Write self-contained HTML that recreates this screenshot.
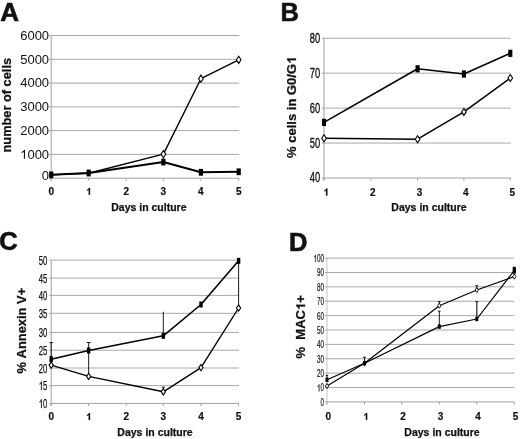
<!DOCTYPE html>
<html><head><meta charset="utf-8"><style>
html,body{margin:0;padding:0;background:#fff;}
svg{display:block;font-family:"Liberation Sans", sans-serif;will-change:transform;font-kerning:none;filter:blur(0.3px);}
</style></head><body>
<svg width="520" height="439" viewBox="0 0 520 439">
<rect width="520" height="439" fill="#fff"/>
<line x1="51.20" y1="154.42" x2="239.30" y2="154.42" stroke="#a8a8a8" stroke-width="1" />
<line x1="51.20" y1="130.64" x2="239.30" y2="130.64" stroke="#a8a8a8" stroke-width="1" />
<line x1="51.20" y1="106.86" x2="239.30" y2="106.86" stroke="#a8a8a8" stroke-width="1" />
<line x1="51.20" y1="83.08" x2="239.30" y2="83.08" stroke="#a8a8a8" stroke-width="1" />
<line x1="51.20" y1="59.30" x2="239.30" y2="59.30" stroke="#a8a8a8" stroke-width="1" />
<line x1="51.20" y1="35.52" x2="239.30" y2="35.52" stroke="#a8a8a8" stroke-width="1" />
<line x1="51.20" y1="178.20" x2="239.30" y2="178.20" stroke="#a0a0a0" stroke-width="1" />
<line x1="51.20" y1="35.52" x2="51.20" y2="180.70" stroke="#a0a0a0" stroke-width="1" />
<line x1="49.20" y1="178.20" x2="51.20" y2="178.20" stroke="#a0a0a0" stroke-width="1" />
<line x1="49.20" y1="154.42" x2="51.20" y2="154.42" stroke="#a0a0a0" stroke-width="1" />
<line x1="49.20" y1="130.64" x2="51.20" y2="130.64" stroke="#a0a0a0" stroke-width="1" />
<line x1="49.20" y1="106.86" x2="51.20" y2="106.86" stroke="#a0a0a0" stroke-width="1" />
<line x1="49.20" y1="83.08" x2="51.20" y2="83.08" stroke="#a0a0a0" stroke-width="1" />
<line x1="49.20" y1="59.30" x2="51.20" y2="59.30" stroke="#a0a0a0" stroke-width="1" />
<line x1="49.20" y1="35.52" x2="51.20" y2="35.52" stroke="#a0a0a0" stroke-width="1" />
<line x1="51.20" y1="178.20" x2="51.20" y2="180.70" stroke="#a0a0a0" stroke-width="1" />
<line x1="88.65" y1="178.20" x2="88.65" y2="180.70" stroke="#a0a0a0" stroke-width="1" />
<line x1="126.30" y1="178.20" x2="126.30" y2="180.70" stroke="#a0a0a0" stroke-width="1" />
<line x1="163.40" y1="178.20" x2="163.40" y2="180.70" stroke="#a0a0a0" stroke-width="1" />
<line x1="200.90" y1="178.20" x2="200.90" y2="180.70" stroke="#a0a0a0" stroke-width="1" />
<line x1="238.70" y1="178.20" x2="238.70" y2="180.70" stroke="#a0a0a0" stroke-width="1" />
<text x="41.87" y="180.05" font-size="13" font-weight="normal" fill="#111" >0</text>
<text x="20.18" y="158.67" font-size="13" font-weight="normal" fill="#111" > 000</text>
<path d="M25.02,158.67L23.88,158.67L23.88,151.69Q23.47,152.07 22.80,152.45Q22.13,152.82 21.60,153.02L21.60,151.96Q22.56,151.53 23.28,150.91Q24.00,150.30 24.29,149.73L25.02,149.73Z" fill="#111"/>
<text x="20.18" y="134.89" font-size="13" font-weight="normal" fill="#111" >2000</text>
<text x="20.18" y="111.11" font-size="13" font-weight="normal" fill="#111" >3000</text>
<text x="20.18" y="87.33" font-size="13" font-weight="normal" fill="#111" >4000</text>
<text x="20.18" y="63.55" font-size="13" font-weight="normal" fill="#111" >5000</text>
<text x="20.18" y="39.77" font-size="13" font-weight="normal" fill="#111" >6000</text>
<text x="48.42" y="194.80" font-size="10" font-weight="bold" fill="#111" stroke="#111" stroke-width="0.2">0</text>
<text x="85.87" y="194.80" font-size="10" font-weight="bold" fill="#111" stroke="#111" stroke-width="0.2"> </text>
<path d="M90.06,194.80L88.69,194.80L88.69,189.85Q87.93,190.52 86.92,190.84L86.92,189.65Q87.46,189.48 88.08,189.01Q88.71,188.55 88.95,187.92L90.06,187.92Z" fill="#111" stroke="#111" stroke-width="0.2"/>
<text x="123.52" y="194.80" font-size="10" font-weight="bold" fill="#111" stroke="#111" stroke-width="0.2">2</text>
<text x="160.62" y="194.80" font-size="10" font-weight="bold" fill="#111" stroke="#111" stroke-width="0.2">3</text>
<text x="198.12" y="194.80" font-size="10" font-weight="bold" fill="#111" stroke="#111" stroke-width="0.2">4</text>
<text x="235.92" y="194.80" font-size="10" font-weight="bold" fill="#111" stroke="#111" stroke-width="0.2">5</text>
<text x="111.21" y="210.50" font-size="10.5" font-weight="bold" fill="#111" stroke="#111" stroke-width="0.25">Days in culture</text>
<g transform="translate(10.90,105.20) rotate(-90)">
<text x="-47.30" y="0.00" font-size="12.8" font-weight="bold" fill="#111" stroke="#111" stroke-width="0.25">number of cells</text>
</g>
<text x="0.20" y="20.80" font-size="26" font-weight="bold" fill="#111" stroke="#111" stroke-width="0.6">A</text>
<polyline points="51.20,174.90 88.65,173.30 163.40,154.10 200.90,78.70 238.70,59.80" fill="none" stroke="#000" stroke-width="1.4" stroke-linejoin="round"/>
<polyline points="51.20,174.85 88.65,173.00 163.40,162.00 200.90,172.30 238.70,171.80" fill="none" stroke="#000" stroke-width="2" stroke-linejoin="round"/>
<path d="M163.40,150.50 L165.70,154.10 L163.40,157.70 L161.10,154.10 Z" fill="#fff" stroke="#000" stroke-width="1.1"/>
<path d="M200.90,75.10 L203.20,78.70 L200.90,82.30 L198.60,78.70 Z" fill="#fff" stroke="#000" stroke-width="1.1"/>
<path d="M238.70,56.20 L241.00,59.80 L238.70,63.40 L236.40,59.80 Z" fill="#fff" stroke="#000" stroke-width="1.1"/>
<rect x="49.10" y="171.45" width="4.2" height="6.8" fill="#000"/>
<rect x="86.55" y="169.60" width="4.2" height="6.8" fill="#000"/>
<rect x="161.30" y="158.60" width="4.2" height="6.8" fill="#000"/>
<rect x="198.80" y="168.90" width="4.2" height="6.8" fill="#000"/>
<rect x="236.60" y="168.40" width="4.2" height="6.8" fill="#000"/>
<line x1="324.00" y1="143.05" x2="510.80" y2="143.05" stroke="#a8a8a8" stroke-width="1" />
<line x1="324.00" y1="108.10" x2="510.80" y2="108.10" stroke="#a8a8a8" stroke-width="1" />
<line x1="324.00" y1="73.15" x2="510.80" y2="73.15" stroke="#a8a8a8" stroke-width="1" />
<line x1="324.00" y1="38.20" x2="510.80" y2="38.20" stroke="#a8a8a8" stroke-width="1" />
<line x1="324.00" y1="178.00" x2="510.80" y2="178.00" stroke="#a0a0a0" stroke-width="1" />
<line x1="324.00" y1="38.20" x2="324.00" y2="180.50" stroke="#a0a0a0" stroke-width="1" />
<line x1="322.00" y1="178.00" x2="324.00" y2="178.00" stroke="#a0a0a0" stroke-width="1" />
<line x1="322.00" y1="143.05" x2="324.00" y2="143.05" stroke="#a0a0a0" stroke-width="1" />
<line x1="322.00" y1="108.10" x2="324.00" y2="108.10" stroke="#a0a0a0" stroke-width="1" />
<line x1="322.00" y1="73.15" x2="324.00" y2="73.15" stroke="#a0a0a0" stroke-width="1" />
<line x1="322.00" y1="38.20" x2="324.00" y2="38.20" stroke="#a0a0a0" stroke-width="1" />
<line x1="324.00" y1="178.00" x2="324.00" y2="180.50" stroke="#a0a0a0" stroke-width="1" />
<line x1="370.80" y1="178.00" x2="370.80" y2="180.50" stroke="#a0a0a0" stroke-width="1" />
<line x1="417.60" y1="178.00" x2="417.60" y2="180.50" stroke="#a0a0a0" stroke-width="1" />
<line x1="463.90" y1="178.00" x2="463.90" y2="180.50" stroke="#a0a0a0" stroke-width="1" />
<line x1="510.30" y1="178.00" x2="510.30" y2="180.50" stroke="#a0a0a0" stroke-width="1" />
<text x="309.80" y="182.00" font-size="14.6" font-weight="normal" fill="#111" textLength="10.4" lengthAdjust="spacingAndGlyphs" stroke="#111" stroke-width="0.35">40</text>
<text x="309.80" y="148.25" font-size="14.6" font-weight="normal" fill="#111" textLength="10.4" lengthAdjust="spacingAndGlyphs" stroke="#111" stroke-width="0.35">50</text>
<text x="309.80" y="113.30" font-size="14.6" font-weight="normal" fill="#111" textLength="10.4" lengthAdjust="spacingAndGlyphs" stroke="#111" stroke-width="0.35">60</text>
<text x="309.80" y="78.35" font-size="14.6" font-weight="normal" fill="#111" textLength="10.4" lengthAdjust="spacingAndGlyphs" stroke="#111" stroke-width="0.35">70</text>
<text x="309.80" y="43.40" font-size="14.6" font-weight="normal" fill="#111" textLength="10.4" lengthAdjust="spacingAndGlyphs" stroke="#111" stroke-width="0.35">80</text>
<text x="323.22" y="195.50" font-size="10" font-weight="bold" fill="#111" stroke="#111" stroke-width="0.2"> </text>
<path d="M327.41,195.50L326.04,195.50L326.04,190.55Q325.28,191.22 324.27,191.54L324.27,190.35Q324.81,190.18 325.43,189.71Q326.06,189.25 326.30,188.62L327.41,188.62Z" fill="#111" stroke="#111" stroke-width="0.2"/>
<text x="370.02" y="195.50" font-size="10" font-weight="bold" fill="#111" stroke="#111" stroke-width="0.2">2</text>
<text x="416.82" y="195.50" font-size="10" font-weight="bold" fill="#111" stroke="#111" stroke-width="0.2">3</text>
<text x="463.12" y="195.50" font-size="10" font-weight="bold" fill="#111" stroke="#111" stroke-width="0.2">4</text>
<text x="509.52" y="195.50" font-size="10" font-weight="bold" fill="#111" stroke="#111" stroke-width="0.2">5</text>
<text x="391.36" y="211.40" font-size="10.5" font-weight="bold" fill="#111" stroke="#111" stroke-width="0.25">Days in culture</text>
<g transform="translate(296.00,107.30) rotate(-90)">
<text x="-50.58" y="0.00" font-size="13" font-weight="bold" fill="#111" stroke="#111" stroke-width="0.25">% cells in G0/G </text>
<path d="M48.79,0.00L47.01,0.00L47.01,-6.44Q46.03,-5.56 44.72,-5.15L44.72,-6.70Q45.41,-6.92 46.22,-7.52Q47.04,-8.12 47.35,-8.94L48.79,-8.94Z" fill="#111" stroke="#111" stroke-width="0.25"/>
</g>
<text x="280.60" y="20.80" font-size="25.5" font-weight="bold" fill="#111" stroke="#111" stroke-width="0.6">B</text>
<polyline points="324.00,138.30 417.60,139.20 463.90,111.90 510.30,78.00" fill="none" stroke="#000" stroke-width="1.5" stroke-linejoin="round"/>
<polyline points="324.00,122.40 417.60,68.80 463.90,74.00 510.30,53.30" fill="none" stroke="#000" stroke-width="1.6" stroke-linejoin="round"/>
<path d="M324.00,134.80 L326.30,138.30 L324.00,141.80 L321.70,138.30 Z" fill="#fff" stroke="#000" stroke-width="1.1"/>
<path d="M417.60,135.70 L419.90,139.20 L417.60,142.70 L415.30,139.20 Z" fill="#fff" stroke="#000" stroke-width="1.1"/>
<path d="M463.90,108.40 L466.20,111.90 L463.90,115.40 L461.60,111.90 Z" fill="#fff" stroke="#000" stroke-width="1.1"/>
<path d="M510.30,74.50 L512.60,78.00 L510.30,81.50 L508.00,78.00 Z" fill="#fff" stroke="#000" stroke-width="1.1"/>
<rect x="321.95" y="118.80" width="4.1" height="7.2" fill="#000"/>
<rect x="415.55" y="65.20" width="4.1" height="7.2" fill="#000"/>
<rect x="461.85" y="70.40" width="4.1" height="7.2" fill="#000"/>
<rect x="508.25" y="49.70" width="4.1" height="7.2" fill="#000"/>
<line x1="51.20" y1="385.60" x2="239.00" y2="385.60" stroke="#a8a8a8" stroke-width="1" />
<line x1="51.20" y1="368.00" x2="239.00" y2="368.00" stroke="#a8a8a8" stroke-width="1" />
<line x1="51.20" y1="350.20" x2="239.00" y2="350.20" stroke="#a8a8a8" stroke-width="1" />
<line x1="51.20" y1="332.40" x2="239.00" y2="332.40" stroke="#a8a8a8" stroke-width="1" />
<line x1="51.20" y1="313.30" x2="239.00" y2="313.30" stroke="#a8a8a8" stroke-width="1" />
<line x1="51.20" y1="295.40" x2="239.00" y2="295.40" stroke="#a8a8a8" stroke-width="1" />
<line x1="51.20" y1="278.10" x2="239.00" y2="278.10" stroke="#a8a8a8" stroke-width="1" />
<line x1="51.20" y1="260.10" x2="239.00" y2="260.10" stroke="#a8a8a8" stroke-width="1" />
<line x1="51.20" y1="403.40" x2="239.00" y2="403.40" stroke="#a0a0a0" stroke-width="1" />
<line x1="51.20" y1="260.10" x2="51.20" y2="405.90" stroke="#a0a0a0" stroke-width="1" />
<line x1="49.20" y1="403.40" x2="51.20" y2="403.40" stroke="#a0a0a0" stroke-width="1" />
<line x1="49.20" y1="385.60" x2="51.20" y2="385.60" stroke="#a0a0a0" stroke-width="1" />
<line x1="49.20" y1="368.00" x2="51.20" y2="368.00" stroke="#a0a0a0" stroke-width="1" />
<line x1="49.20" y1="350.20" x2="51.20" y2="350.20" stroke="#a0a0a0" stroke-width="1" />
<line x1="49.20" y1="332.40" x2="51.20" y2="332.40" stroke="#a0a0a0" stroke-width="1" />
<line x1="49.20" y1="313.30" x2="51.20" y2="313.30" stroke="#a0a0a0" stroke-width="1" />
<line x1="49.20" y1="295.40" x2="51.20" y2="295.40" stroke="#a0a0a0" stroke-width="1" />
<line x1="49.20" y1="278.10" x2="51.20" y2="278.10" stroke="#a0a0a0" stroke-width="1" />
<line x1="49.20" y1="260.10" x2="51.20" y2="260.10" stroke="#a0a0a0" stroke-width="1" />
<line x1="51.20" y1="403.40" x2="51.20" y2="405.90" stroke="#a0a0a0" stroke-width="1" />
<line x1="88.65" y1="403.40" x2="88.65" y2="405.90" stroke="#a0a0a0" stroke-width="1" />
<line x1="126.30" y1="403.40" x2="126.30" y2="405.90" stroke="#a0a0a0" stroke-width="1" />
<line x1="163.30" y1="403.40" x2="163.30" y2="405.90" stroke="#a0a0a0" stroke-width="1" />
<line x1="201.00" y1="403.40" x2="201.00" y2="405.90" stroke="#a0a0a0" stroke-width="1" />
<line x1="238.60" y1="403.40" x2="238.60" y2="405.90" stroke="#a0a0a0" stroke-width="1" />
<text x="38.80" y="407.90" font-size="12.5" font-weight="normal" fill="#111" textLength="8.6" lengthAdjust="spacingAndGlyphs" stroke="#111" stroke-width="0.25"> 0</text>
<path d="M41.68,407.90L41.00,407.90L41.00,401.19Q40.76,401.55 40.36,401.92Q39.96,402.28 39.64,402.47L39.64,401.45Q40.22,401.03 40.64,400.44Q41.07,399.85 41.24,399.30L41.68,399.30Z" fill="#111" stroke="#111" stroke-width="0.25"/>
<text x="38.80" y="390.10" font-size="12.5" font-weight="normal" fill="#111" textLength="8.6" lengthAdjust="spacingAndGlyphs" stroke="#111" stroke-width="0.25"> 5</text>
<path d="M41.68,390.10L41.00,390.10L41.00,383.39Q40.76,383.75 40.36,384.12Q39.96,384.48 39.64,384.67L39.64,383.65Q40.22,383.23 40.64,382.64Q41.07,382.05 41.24,381.50L41.68,381.50Z" fill="#111" stroke="#111" stroke-width="0.25"/>
<text x="38.80" y="372.50" font-size="12.5" font-weight="normal" fill="#111" textLength="8.6" lengthAdjust="spacingAndGlyphs" stroke="#111" stroke-width="0.25">20</text>
<text x="38.80" y="354.70" font-size="12.5" font-weight="normal" fill="#111" textLength="8.6" lengthAdjust="spacingAndGlyphs" stroke="#111" stroke-width="0.25">25</text>
<text x="38.80" y="336.90" font-size="12.5" font-weight="normal" fill="#111" textLength="8.6" lengthAdjust="spacingAndGlyphs" stroke="#111" stroke-width="0.25">30</text>
<text x="38.80" y="317.80" font-size="12.5" font-weight="normal" fill="#111" textLength="8.6" lengthAdjust="spacingAndGlyphs" stroke="#111" stroke-width="0.25">35</text>
<text x="38.80" y="299.90" font-size="12.5" font-weight="normal" fill="#111" textLength="8.6" lengthAdjust="spacingAndGlyphs" stroke="#111" stroke-width="0.25">40</text>
<text x="38.80" y="282.60" font-size="12.5" font-weight="normal" fill="#111" textLength="8.6" lengthAdjust="spacingAndGlyphs" stroke="#111" stroke-width="0.25">45</text>
<text x="38.80" y="264.60" font-size="12.5" font-weight="normal" fill="#111" textLength="8.6" lengthAdjust="spacingAndGlyphs" stroke="#111" stroke-width="0.25">50</text>
<text x="48.42" y="420.00" font-size="10" font-weight="bold" fill="#111" stroke="#111" stroke-width="0.2">0</text>
<text x="85.87" y="420.00" font-size="10" font-weight="bold" fill="#111" stroke="#111" stroke-width="0.2"> </text>
<path d="M90.06,420.00L88.69,420.00L88.69,415.05Q87.93,415.72 86.92,416.04L86.92,414.85Q87.46,414.68 88.08,414.21Q88.71,413.75 88.95,413.12L90.06,413.12Z" fill="#111" stroke="#111" stroke-width="0.2"/>
<text x="123.52" y="420.00" font-size="10" font-weight="bold" fill="#111" stroke="#111" stroke-width="0.2">2</text>
<text x="160.52" y="420.00" font-size="10" font-weight="bold" fill="#111" stroke="#111" stroke-width="0.2">3</text>
<text x="198.22" y="420.00" font-size="10" font-weight="bold" fill="#111" stroke="#111" stroke-width="0.2">4</text>
<text x="235.82" y="420.00" font-size="10" font-weight="bold" fill="#111" stroke="#111" stroke-width="0.2">5</text>
<text x="117.36" y="435.50" font-size="10.5" font-weight="bold" fill="#111" stroke="#111" stroke-width="0.25">Days in culture</text>
<g transform="translate(25.50,330.60) rotate(-90)">
<text x="-42.83" y="0.00" font-size="12.9" font-weight="bold" fill="#111" stroke="#111" stroke-width="0.25">% Annexin V+</text>
</g>
<text x="-0.70" y="250.20" font-size="25.5" font-weight="bold" fill="#111" stroke="#111" stroke-width="0.6">C</text>
<line x1="51.20" y1="359.20" x2="51.20" y2="342.50" stroke="#000" stroke-width="0.9" />
<line x1="49.60" y1="342.50" x2="52.80" y2="342.50" stroke="#000" stroke-width="0.9" />
<line x1="88.65" y1="350.50" x2="88.65" y2="342.50" stroke="#000" stroke-width="0.9" />
<line x1="86.65" y1="342.50" x2="90.65" y2="342.50" stroke="#000" stroke-width="0.9" />
<line x1="88.65" y1="376.40" x2="88.65" y2="350.50" stroke="#000" stroke-width="0.9" />
<line x1="163.30" y1="335.80" x2="163.30" y2="311.80" stroke="#000" stroke-width="0.9" />
<line x1="163.30" y1="391.80" x2="163.30" y2="387.20" stroke="#000" stroke-width="0.9" />
<line x1="161.70" y1="387.20" x2="164.90" y2="387.20" stroke="#000" stroke-width="0.9" />
<line x1="238.60" y1="308.00" x2="238.60" y2="260.80" stroke="#000" stroke-width="0.9" />
<polyline points="51.20,365.10 88.65,376.40 163.30,391.80 201.00,367.60 238.60,308.00" fill="none" stroke="#000" stroke-width="1.4" stroke-linejoin="round"/>
<polyline points="51.20,359.20 88.65,350.50 163.30,335.80 201.00,304.50 238.60,260.80" fill="none" stroke="#000" stroke-width="1.6" stroke-linejoin="round"/>
<path d="M51.20,362.00 L53.30,365.10 L51.20,368.20 L49.10,365.10 Z" fill="#fff" stroke="#000" stroke-width="1.1"/>
<path d="M88.65,373.30 L90.75,376.40 L88.65,379.50 L86.55,376.40 Z" fill="#fff" stroke="#000" stroke-width="1.1"/>
<path d="M163.30,388.70 L165.40,391.80 L163.30,394.90 L161.20,391.80 Z" fill="#fff" stroke="#000" stroke-width="1.1"/>
<path d="M201.00,364.50 L203.10,367.60 L201.00,370.70 L198.90,367.60 Z" fill="#fff" stroke="#000" stroke-width="1.1"/>
<path d="M238.60,304.90 L240.70,308.00 L238.60,311.10 L236.50,308.00 Z" fill="#fff" stroke="#000" stroke-width="1.1"/>
<rect x="49.50" y="356.20" width="3.4" height="6" fill="#000"/>
<rect x="86.95" y="347.50" width="3.4" height="6" fill="#000"/>
<rect x="161.60" y="332.80" width="3.4" height="6" fill="#000"/>
<rect x="199.30" y="301.50" width="3.4" height="6" fill="#000"/>
<rect x="236.90" y="257.80" width="3.4" height="6" fill="#000"/>
<line x1="327.00" y1="387.52" x2="514.30" y2="387.52" stroke="#a8a8a8" stroke-width="1" />
<line x1="327.00" y1="373.14" x2="514.30" y2="373.14" stroke="#a8a8a8" stroke-width="1" />
<line x1="327.00" y1="358.76" x2="514.30" y2="358.76" stroke="#a8a8a8" stroke-width="1" />
<line x1="327.00" y1="344.38" x2="514.30" y2="344.38" stroke="#a8a8a8" stroke-width="1" />
<line x1="327.00" y1="330.00" x2="514.30" y2="330.00" stroke="#a8a8a8" stroke-width="1" />
<line x1="327.00" y1="315.62" x2="514.30" y2="315.62" stroke="#a8a8a8" stroke-width="1" />
<line x1="327.00" y1="301.24" x2="514.30" y2="301.24" stroke="#a8a8a8" stroke-width="1" />
<line x1="327.00" y1="286.86" x2="514.30" y2="286.86" stroke="#a8a8a8" stroke-width="1" />
<line x1="327.00" y1="272.48" x2="514.30" y2="272.48" stroke="#a8a8a8" stroke-width="1" />
<line x1="327.00" y1="258.10" x2="514.30" y2="258.10" stroke="#a8a8a8" stroke-width="1" />
<line x1="327.00" y1="401.90" x2="514.30" y2="401.90" stroke="#a0a0a0" stroke-width="1" />
<line x1="327.00" y1="258.10" x2="327.00" y2="404.40" stroke="#c4c4c4" stroke-width="1" />
<line x1="325.00" y1="401.90" x2="327.00" y2="401.90" stroke="#a0a0a0" stroke-width="1" />
<line x1="325.00" y1="387.52" x2="327.00" y2="387.52" stroke="#a0a0a0" stroke-width="1" />
<line x1="325.00" y1="373.14" x2="327.00" y2="373.14" stroke="#a0a0a0" stroke-width="1" />
<line x1="325.00" y1="358.76" x2="327.00" y2="358.76" stroke="#a0a0a0" stroke-width="1" />
<line x1="325.00" y1="344.38" x2="327.00" y2="344.38" stroke="#a0a0a0" stroke-width="1" />
<line x1="325.00" y1="330.00" x2="327.00" y2="330.00" stroke="#a0a0a0" stroke-width="1" />
<line x1="325.00" y1="315.62" x2="327.00" y2="315.62" stroke="#a0a0a0" stroke-width="1" />
<line x1="325.00" y1="301.24" x2="327.00" y2="301.24" stroke="#a0a0a0" stroke-width="1" />
<line x1="325.00" y1="286.86" x2="327.00" y2="286.86" stroke="#a0a0a0" stroke-width="1" />
<line x1="325.00" y1="272.48" x2="327.00" y2="272.48" stroke="#a0a0a0" stroke-width="1" />
<line x1="325.00" y1="258.10" x2="327.00" y2="258.10" stroke="#a0a0a0" stroke-width="1" />
<line x1="327.00" y1="401.90" x2="327.00" y2="404.40" stroke="#a0a0a0" stroke-width="1" />
<line x1="364.50" y1="401.90" x2="364.50" y2="404.40" stroke="#a0a0a0" stroke-width="1" />
<line x1="401.80" y1="401.90" x2="401.80" y2="404.40" stroke="#a0a0a0" stroke-width="1" />
<line x1="439.30" y1="401.90" x2="439.30" y2="404.40" stroke="#a0a0a0" stroke-width="1" />
<line x1="476.80" y1="401.90" x2="476.80" y2="404.40" stroke="#a0a0a0" stroke-width="1" />
<line x1="514.30" y1="401.90" x2="514.30" y2="404.40" stroke="#a0a0a0" stroke-width="1" />
<text x="320.50" y="405.80" font-size="10.5" font-weight="normal" fill="#111" textLength="3.5" lengthAdjust="spacingAndGlyphs" stroke="#111" stroke-width="0.2">0</text>
<text x="317.00" y="391.42" font-size="10.5" font-weight="normal" fill="#111" textLength="7.0" lengthAdjust="spacingAndGlyphs" stroke="#111" stroke-width="0.2"> 0</text>
<path d="M319.34,391.42L318.79,391.42L318.79,385.78Q318.59,386.09 318.27,386.40Q317.94,386.70 317.69,386.86L317.69,386.00Q318.15,385.65 318.50,385.15Q318.85,384.66 318.99,384.20L319.34,384.20Z" fill="#111" stroke="#111" stroke-width="0.2"/>
<text x="317.00" y="377.04" font-size="10.5" font-weight="normal" fill="#111" textLength="7.0" lengthAdjust="spacingAndGlyphs" stroke="#111" stroke-width="0.2">20</text>
<text x="317.00" y="362.66" font-size="10.5" font-weight="normal" fill="#111" textLength="7.0" lengthAdjust="spacingAndGlyphs" stroke="#111" stroke-width="0.2">30</text>
<text x="317.00" y="348.28" font-size="10.5" font-weight="normal" fill="#111" textLength="7.0" lengthAdjust="spacingAndGlyphs" stroke="#111" stroke-width="0.2">40</text>
<text x="317.00" y="333.90" font-size="10.5" font-weight="normal" fill="#111" textLength="7.0" lengthAdjust="spacingAndGlyphs" stroke="#111" stroke-width="0.2">50</text>
<text x="317.00" y="319.52" font-size="10.5" font-weight="normal" fill="#111" textLength="7.0" lengthAdjust="spacingAndGlyphs" stroke="#111" stroke-width="0.2">60</text>
<text x="317.00" y="305.14" font-size="10.5" font-weight="normal" fill="#111" textLength="7.0" lengthAdjust="spacingAndGlyphs" stroke="#111" stroke-width="0.2">70</text>
<text x="317.00" y="290.76" font-size="10.5" font-weight="normal" fill="#111" textLength="7.0" lengthAdjust="spacingAndGlyphs" stroke="#111" stroke-width="0.2">80</text>
<text x="317.00" y="276.38" font-size="10.5" font-weight="normal" fill="#111" textLength="7.0" lengthAdjust="spacingAndGlyphs" stroke="#111" stroke-width="0.2">90</text>
<text x="313.50" y="262.00" font-size="10.5" font-weight="normal" fill="#111" textLength="10.5" lengthAdjust="spacingAndGlyphs" stroke="#111" stroke-width="0.2"> 00</text>
<path d="M315.84,262.00L315.29,262.00L315.29,256.36Q315.09,256.67 314.77,256.98Q314.44,257.28 314.19,257.44L314.19,256.58Q314.65,256.23 315.00,255.73Q315.35,255.24 315.49,254.78L315.84,254.78Z" fill="#111" stroke="#111" stroke-width="0.2"/>
<text x="325.52" y="419.80" font-size="10" font-weight="bold" fill="#111" stroke="#111" stroke-width="0.2">0</text>
<text x="363.02" y="419.80" font-size="10" font-weight="bold" fill="#111" stroke="#111" stroke-width="0.2"> </text>
<path d="M367.21,419.80L365.84,419.80L365.84,414.85Q365.08,415.52 364.07,415.84L364.07,414.65Q364.61,414.48 365.23,414.01Q365.86,413.55 366.10,412.92L367.21,412.92Z" fill="#111" stroke="#111" stroke-width="0.2"/>
<text x="400.32" y="419.80" font-size="10" font-weight="bold" fill="#111" stroke="#111" stroke-width="0.2">2</text>
<text x="437.82" y="419.80" font-size="10" font-weight="bold" fill="#111" stroke="#111" stroke-width="0.2">3</text>
<text x="475.32" y="419.80" font-size="10" font-weight="bold" fill="#111" stroke="#111" stroke-width="0.2">4</text>
<text x="512.82" y="419.80" font-size="10" font-weight="bold" fill="#111" stroke="#111" stroke-width="0.2">5</text>
<text x="404.36" y="435.50" font-size="10.5" font-weight="bold" fill="#111" stroke="#111" stroke-width="0.25">Days in culture</text>
<g transform="translate(305.10,352.70) rotate(-90)">
<text x="-5.78" y="0.00" font-size="13" font-weight="bold" fill="#111" stroke="#111" stroke-width="0.25">%</text>
</g>
<g transform="translate(305.10,317.50) rotate(-90)">
<text x="-22.21" y="0.00" font-size="13" font-weight="bold" fill="#111" stroke="#111" stroke-width="0.25">MAC +</text>
<path d="M12.84,0.00L11.05,0.00L11.05,-6.44Q10.08,-5.56 8.76,-5.15L8.76,-6.70Q9.45,-6.92 10.27,-7.52Q11.08,-8.12 11.39,-8.94L12.84,-8.94Z" fill="#111" stroke="#111" stroke-width="0.25"/>
</g>
<text x="289.00" y="250.80" font-size="25.5" font-weight="bold" fill="#111" stroke="#111" stroke-width="0.6">D</text>
<line x1="327.00" y1="379.80" x2="327.00" y2="375.40" stroke="#000" stroke-width="0.9" />
<line x1="325.80" y1="375.40" x2="328.20" y2="375.40" stroke="#000" stroke-width="0.9" />
<line x1="364.50" y1="363.20" x2="364.50" y2="357.20" stroke="#000" stroke-width="0.9" />
<line x1="363.10" y1="357.20" x2="365.90" y2="357.20" stroke="#000" stroke-width="0.9" />
<line x1="439.30" y1="326.60" x2="439.30" y2="311.20" stroke="#000" stroke-width="0.9" />
<line x1="438.00" y1="311.20" x2="440.60" y2="311.20" stroke="#000" stroke-width="0.9" />
<line x1="439.30" y1="305.70" x2="439.30" y2="301.60" stroke="#000" stroke-width="0.9" />
<line x1="437.90" y1="301.60" x2="440.70" y2="301.60" stroke="#000" stroke-width="0.9" />
<line x1="476.80" y1="319.00" x2="476.80" y2="301.60" stroke="#333" stroke-width="1.3" />
<line x1="475.40" y1="301.60" x2="478.20" y2="301.60" stroke="#333" stroke-width="1.3" />
<line x1="476.80" y1="290.00" x2="476.80" y2="285.65" stroke="#000" stroke-width="0.9" />
<line x1="475.40" y1="285.65" x2="478.20" y2="285.65" stroke="#000" stroke-width="0.9" />
<line x1="514.30" y1="270.50" x2="514.30" y2="267.20" stroke="#000" stroke-width="0.9" />
<line x1="512.80" y1="267.20" x2="515.80" y2="267.20" stroke="#000" stroke-width="0.9" />
<polyline points="327.00,386.00 364.50,363.20 439.30,305.70 476.80,290.00 514.30,276.50" fill="none" stroke="#000" stroke-width="1.2" stroke-linejoin="round"/>
<polyline points="327.00,379.80 364.50,363.20 439.30,326.60 476.80,319.00 514.30,270.50" fill="none" stroke="#000" stroke-width="1.2" stroke-linejoin="round"/>
<path d="M327.00,383.40 L328.60,386.00 L327.00,388.60 L325.40,386.00 Z" fill="#fff" stroke="#000" stroke-width="0.9"/>
<path d="M364.50,360.60 L366.10,363.20 L364.50,365.80 L362.90,363.20 Z" fill="#fff" stroke="#000" stroke-width="0.9"/>
<path d="M439.30,303.10 L440.90,305.70 L439.30,308.30 L437.70,305.70 Z" fill="#fff" stroke="#000" stroke-width="0.9"/>
<path d="M476.80,287.40 L478.40,290.00 L476.80,292.60 L475.20,290.00 Z" fill="#fff" stroke="#000" stroke-width="0.9"/>
<path d="M514.30,273.90 L515.90,276.50 L514.30,279.10 L512.70,276.50 Z" fill="#fff" stroke="#000" stroke-width="0.9"/>
<rect x="325.50" y="377.60" width="3" height="4.4" fill="#000"/>
<rect x="363.00" y="361.00" width="3" height="4.4" fill="#000"/>
<rect x="437.80" y="324.40" width="3" height="4.4" fill="#000"/>
<rect x="475.30" y="316.80" width="3" height="4.4" fill="#000"/>
<rect x="512.80" y="268.30" width="3" height="4.4" fill="#000"/>
<rect x="512.80" y="267.20" width="3" height="6.6" fill="#000"/>
</svg>
</body></html>
